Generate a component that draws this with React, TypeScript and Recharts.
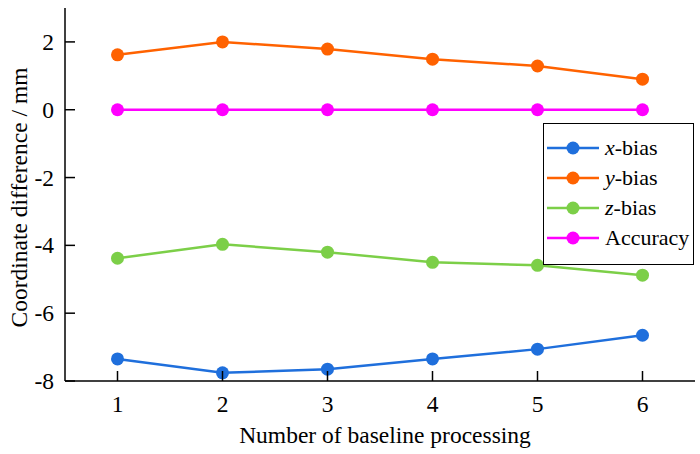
import { LineChart, Line, XAxis, YAxis, Legend } from 'recharts';

const runs = [1, 2, 3, 4, 5, 6];
const xBias = [-7.35, -7.76, -7.65, -7.35, -7.06, -6.65];
const yBias = [1.62, 2.0, 1.79, 1.49, 1.29, 0.9];
const zBias = [-4.38, -3.97, -4.2, -4.5, -4.59, -4.88];
const accuracy = [0, 0, 0, 0, 0, 0];
const yTicks = [-8, -6, -4, -2, 0, 2];

const series = [
  { key: 'x', name: 'x', suffix: '-bias', color: '#1f6fdc', italic: true },
  { key: 'y', name: 'y', suffix: '-bias', color: '#ff6200', italic: true },
  { key: 'z', name: 'z', suffix: '-bias', color: '#7ccf48', italic: true },
  { key: 'acc', name: 'Accuracy', suffix: '', color: '#ff00ff', italic: false },
];

const data = runs.map((r, i) => ({ run: r, x: xBias[i], y: yBias[i], z: zBias[i], acc: accuracy[i] }));

const FONT = 'Liberation Serif, Times New Roman, serif';
const FS = 23.5;
const TICK_LEN = 10;
const MARGIN = 11;

// ticks point inward, like the original plot
const YTick = (props: any) => {
  const { x, y, payload } = props;
  const ax = x + MARGIN;
  return (
    <g>
      <line x1={ax} y1={y} x2={ax + TICK_LEN} y2={y} stroke="#000" strokeWidth={1.5} />
      <text x={x} y={y} dy={8} textAnchor="end" style={{ fontFamily: FONT, fontSize: FS }} fill="#000">
        {payload.value}
      </text>
    </g>
  );
};

const XTick = (props: any) => {
  const { x, y, payload } = props;
  const ay = y - MARGIN;
  return (
    <g>
      <line x1={x} y1={ay} x2={x} y2={ay - TICK_LEN} stroke="#000" strokeWidth={1.5} />
      <text x={x} y={y} dy={20} textAnchor="middle" style={{ fontFamily: FONT, fontSize: FS }} fill="#000">
        {payload.value}
      </text>
    </g>
  );
};

const XLabel = ({ viewBox }: any) => (
  <text
    x={viewBox.x + viewBox.width / 2 + 5}
    y={viewBox.y + viewBox.height - 11}
    textAnchor="middle"
    style={{ fontFamily: FONT, fontSize: FS }}
    fill="#000"
  >
    Number of baseline processing
  </text>
);

const YLabel = ({ viewBox }: any) => {
  const cx = viewBox.x + 27;
  const cy = viewBox.y + viewBox.height / 2 + 3;
  return (
    <text x={cx} y={cy} transform={`rotate(-90, ${cx}, ${cy})`} textAnchor="middle" style={{ fontFamily: FONT, fontSize: FS }} fill="#000">
      Coordinate difference / mm
    </text>
  );
};

const LegendBox = () => (
  <div
    style={{
      border: '1.5px solid #000',
      background: '#fff',
      width: 151,
      height: 142,
      boxSizing: 'border-box',
      padding: '9px 0 0 0',
      fontFamily: FONT,
      fontSize: 22,
      lineHeight: 1,
    }}
  >
    {series.map((s) => (
      <div key={s.key} style={{ display: 'flex', alignItems: 'center', height: 30 }}>
        <svg width={54} height={16} style={{ marginLeft: 3, flex: 'none' }}>
          <line x1={0} y1={8} x2={52} y2={8} stroke={s.color} strokeWidth={2.5} />
          <circle cx={26} cy={8} r={6.5} fill={s.color} />
        </svg>
        <span style={{ marginLeft: 4, color: '#000', whiteSpace: 'nowrap' }}>
          {s.italic ? <i>{s.name}</i> : s.name}
          {s.suffix}
        </span>
      </div>
    ))}
  </div>
);

export default function App() {
  return (
    <div style={{ position: 'absolute', left: 0, top: 0, background: '#fff' }}>
      <LineChart width={700} height={454} data={data} margin={{ top: 8, right: 5, bottom: 0, left: 0 }}>
        <XAxis
          dataKey="run"
          type="number"
          domain={[0.5, 6.5]}
          ticks={runs}
          tickSize={0}
          tickMargin={MARGIN}
          tick={<XTick />}
          height={73}
          stroke="#000"
          strokeWidth={1.5}
          label={<XLabel />}
        />
        <YAxis
          type="number"
          domain={[-8, 3]}
          ticks={yTicks}
          tickSize={0}
          tickMargin={MARGIN}
          tick={<YTick />}
          width={65}
          stroke="#000"
          strokeWidth={1.5}
          label={<YLabel />}
        />
        <Legend
          layout="horizontal"
          verticalAlign="middle"
          align="center"
          content={<LegendBox />}
          wrapperStyle={{ left: 543, top: 123, width: 151 }}
        />
        {series.map((s) => (
          <Line
            key={s.key}
            dataKey={s.key}
            stroke={s.color}
            strokeWidth={2.5}
            dot={{ r: 6.5, fill: s.color, stroke: s.color, strokeWidth: 0 }}
            isAnimationActive={false}
          />
        ))}
      </LineChart>
    </div>
  );
}
